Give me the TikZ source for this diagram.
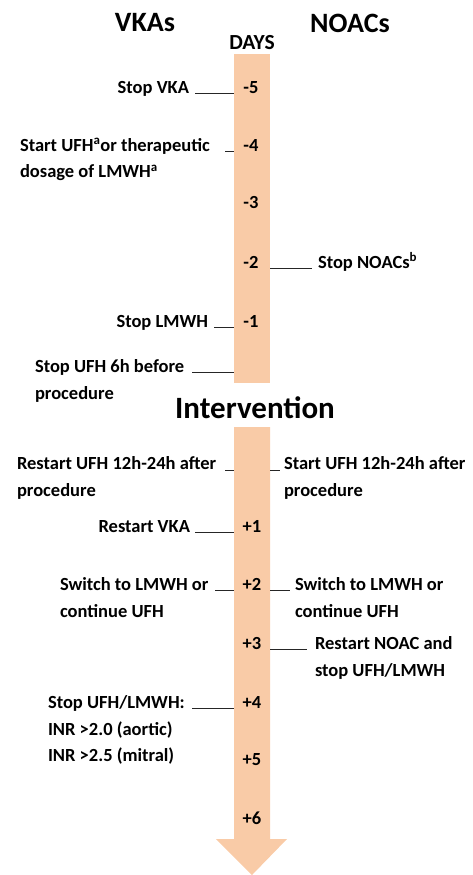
\documentclass[tikz,border=0pt]{standalone}
\usepackage{fontspec}
\setmainfont{Carlito}
\begin{document}
\begin{tikzpicture}[x=1pt,y=-1pt,
  every node/.style={inner sep=0pt,outer sep=0pt},
  txt/.style={font=\fontsize{18.5}{26.5}\selectfont\bfseries,align=left},
  day/.style={font=\fontsize{18.5}{22}\selectfont\bfseries,anchor=base},
  head/.style={font=\fontsize{28}{32}\selectfont\bfseries,anchor=base},
  tick/.style={draw=black!85,line width=0.9pt},
  barfill/.style={fill=orange!30!pink!70!white}]
\definecolor{peach}{RGB}{249,203,167}
\useasboundingbox (0,0) rectangle (472,875);

% headings
\node[head] (vka) at (145,32) {VKAs};
\node[head] (noac) at (350,33) {NOACs};
\node[font=\fontsize{21.5}{24}\selectfont\bfseries,anchor=base] (days) at (252,50) {DAYS};

% timeline before the procedure
\path[fill=peach] (234,54) rectangle (270,383);
\coordinate (barL) at (234,0);
\coordinate (barR) at (270,0);

% intervention label
\node[font=\fontsize{31}{34}\selectfont\bfseries,anchor=base] (interv) at (255,418) {Intervention};

% timeline after the procedure, ending in an arrow head
\path[fill=peach] (234,427) -- (270,427) -- (270,839) -- (287,839) -- (252,875)
  -- (216,839) -- (234,839) -- cycle;

% day numbers
\node[day] (dm5) at (251,93) {-5};
\node[day] (dm4) at (251,151) {-4};
\node[day] (dm3) at (251,208) {-3};
\node[day] (dm2) at (251,268) {-2};
\node[day] (dm1) at (251,327) {-1};
\node[day] (dp1) at (252,532) {+1};
\node[day] (dp2) at (252,590) {+2};
\node[day] (dp3) at (252,649) {+3};
\node[day] (dp4) at (252,708) {+4};
\node[day] (dp5) at (252,765) {+5};
\node[day] (dp6) at (252,824) {+6};

% VKA column
\node[txt,anchor=base east] (v1) at (189,93) {Stop VKA};
\node[txt,anchor=north west] (v2) at (20,138) {Start UFH\textsuperscript{a}or therapeutic\\dosage of LMWH\textsuperscript{a}};
\node[txt,anchor=base east] (v3) at (208,327) {Stop LMWH};
\node[txt,anchor=north west] (v4) at (35,360) {Stop UFH 6h before\\procedure};
\node[txt,anchor=north west] (v5) at (17,457) {Restart UFH 12h-24h after\\procedure};
\node[txt,anchor=base east] (v6) at (190,532) {Restart VKA};
\node[txt,anchor=north west] (v7) at (60,578) {Switch to LMWH or\\continue UFH};
\node[txt,anchor=north west] (v8) at (48,696) {Stop UFH/LMWH:\\INR >2.0 (aortic)\\INR >2.5 (mitral)};

% NOAC column
\node[txt,anchor=base west] (n1) at (318,268) {Stop NOACs\textsuperscript{b}};
\node[txt,anchor=north west] (n2) at (284,457) {Start UFH 12h-24h after\\procedure};
\node[txt,anchor=north west] (n3) at (295,578) {Switch to LMWH or\\continue UFH};
\node[txt,anchor=north west] (n4) at (315,637) {Restart NOAC and\\stop UFH/LMWH};

% leader lines from the labels to the timeline
\coordinate (a1) at (195,93);
\coordinate (a2) at (225,151);
\coordinate (a3) at (214,327);
\coordinate (a4) at (192,372);
\coordinate (a5) at (225,470);
\coordinate (a6) at (195,532);
\coordinate (a7) at (215,590);
\coordinate (a8) at (192,708);
\coordinate (b1) at (312,268);
\coordinate (b2) at (280,470);
\coordinate (b3) at (290,590);
\coordinate (b4) at (307,649);
\foreach \c in {a1,a2,a3,a4,a5,a6,a7,a8}
  \draw[tick] (\c) -- (\c -| barL);
\foreach \c in {b1,b2,b3,b4}
  \draw[tick] (\c -| barR) -- (\c);
\end{tikzpicture}
\end{document}
